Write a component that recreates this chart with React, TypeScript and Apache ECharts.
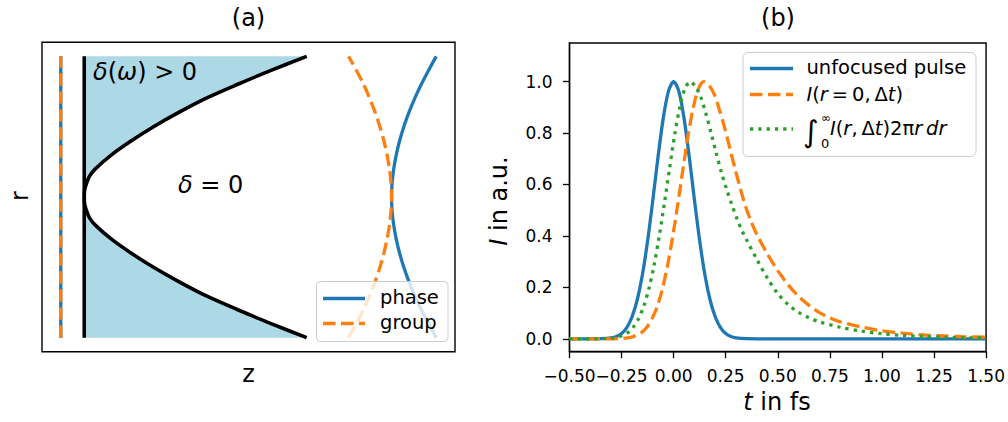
import { useEffect, useRef } from "react";
import * as echarts from "echarts";

const FONT = "DejaVu Sans";
const BLUE = "#1f77b4";
const ORANGE = "#ff7f0e";
const GREEN = "#2ca02c";
const LIGHT_BLUE = "#add8e6";

// ---- Panel (a): wavefront sketch in the (z, r) plane ----
const sourceZ = 0;
const wallZ = 0.0625;
const boundaryR = [-1, -0.9, -0.8, -0.7, -0.6, -0.5, -0.4, -0.3, -0.2, -0.15, -0.1, -0.05, 0, 0.05, 0.1, 0.15, 0.2, 0.3, 0.4, 0.5, 0.6, 0.7, 0.8, 0.9, 1];
const boundaryZ = [0.655, 0.56, 0.47, 0.385, 0.313, 0.247, 0.188, 0.135, 0.092, 0.077, 0.069, 0.0635, 0.0625, 0.0635, 0.069, 0.077, 0.092, 0.135, 0.188, 0.247, 0.313, 0.385, 0.47, 0.56, 0.655];
const frontR = [-1, -0.9, -0.8, -0.7, -0.6, -0.5, -0.4, -0.3, -0.2, -0.1, 0, 0.1, 0.2, 0.3, 0.4, 0.5, 0.6, 0.7, 0.8, 0.9, 1];
const phaseZ = [1.0, 0.9795, 0.96, 0.9425, 0.927, 0.9137, 0.9025, 0.8935, 0.8868, 0.8825, 0.881, 0.8825, 0.8868, 0.8935, 0.9025, 0.9137, 0.927, 0.9425, 0.96, 0.9795, 1.0];
const groupZ = [0.7665, 0.7875, 0.8065, 0.823, 0.8375, 0.85, 0.8605, 0.869, 0.8755, 0.8795, 0.881, 0.8795, 0.8755, 0.869, 0.8605, 0.85, 0.8375, 0.823, 0.8065, 0.7875, 0.7665];

// ---- Panel (b): temporal intensity profiles ----
const xTicksB = [-0.5, 1.5, 0.25]; // min, max, step
const yTickValues = [0, 0.2, 0.4, 0.6, 0.8, 1.0];

const tUnfocused = [-0.5, -0.4, -0.35, -0.3, -0.275, -0.25, -0.225, -0.2, -0.175, -0.15, -0.125, -0.1, -0.075, -0.05, -0.025, 0, 0.025, 0.05, 0.075, 0.1, 0.125, 0.15, 0.175, 0.2, 0.225, 0.25, 0.275, 0.3, 0.35, 0.4, 0.5, 1.0, 1.5];
const iUnfocused = [0, 0, 0.0005, 0.004, 0.009, 0.021, 0.044, 0.085, 0.151, 0.249, 0.381, 0.539, 0.707, 0.857, 0.962, 1, 0.962, 0.857, 0.707, 0.539, 0.381, 0.249, 0.151, 0.085, 0.044, 0.021, 0.009, 0.004, 0.0005, 0, 0, 0, 0];

const tOnAxis = [-0.5, -0.3, -0.255, -0.205, -0.155, -0.13, -0.105, -0.08, -0.055, -0.03, -0.005, 0.02, 0.045, 0.07, 0.095, 0.12, 0.145, 0.17, 0.195, 0.22, 0.245, 0.27, 0.295, 0.32, 0.345, 0.37, 0.4, 0.45, 0.5, 0.55, 0.6, 0.65, 0.7, 0.75, 0.8, 0.9, 1.0, 1.1, 1.2, 1.3, 1.4, 1.5];
const iOnAxis = [0, 0.0002, 0.0014, 0.006, 0.024, 0.044, 0.076, 0.123, 0.191, 0.282, 0.395, 0.524, 0.661, 0.793, 0.902, 0.974, 1.0, 0.985, 0.95, 0.89, 0.82, 0.74, 0.66, 0.585, 0.515, 0.46, 0.405, 0.33, 0.265, 0.21, 0.165, 0.13, 0.102, 0.081, 0.066, 0.046, 0.031, 0.022, 0.015, 0.011, 0.008, 0.006];

const tIntegrated = [-0.5, -0.37, -0.32, -0.27, -0.22, -0.195, -0.17, -0.145, -0.12, -0.095, -0.07, -0.045, -0.02, 0.005, 0.03, 0.055, 0.08, 0.105, 0.13, 0.155, 0.18, 0.205, 0.23, 0.255, 0.28, 0.305, 0.33, 0.35, 0.4, 0.45, 0.5, 0.55, 0.6, 0.65, 0.7, 0.8, 0.9, 1.0, 1.1, 1.2, 1.3, 1.4, 1.5];
const iIntegrated = [0, 0.0002, 0.0014, 0.006, 0.024, 0.044, 0.076, 0.123, 0.191, 0.282, 0.395, 0.524, 0.661, 0.793, 0.902, 0.974, 1.0, 0.98, 0.94, 0.875, 0.8, 0.72, 0.645, 0.58, 0.52, 0.465, 0.418, 0.385, 0.308, 0.236, 0.176, 0.133, 0.103, 0.082, 0.066, 0.045, 0.03, 0.02, 0.013, 0.009, 0.006, 0.004, 0.003];

const pairs = (xs: number[], ys: number[]) => xs.map((x, i) => [x, ys[i]]);

const LW = 3.3;
const DASH = [12.5, 5.5];
const DOT = [3.3, 5];
const THIN = "\u2009";

function txt(x: number, y: number, text: string, size: number, extra: any = {}) {
  return {
    type: "text",
    x,
    y,
    z: 200,
    rotation: extra.rotation || 0,
    style: {
      text,
      fontSize: size,
      fontFamily: FONT,
      fill: "#000",
      align: extra.align || "center",
      verticalAlign: "middle",
      textAlign: extra.align || "center",
      textVerticalAlign: "middle",
      rich: extra.rich,
    },
  };
}

function seg(x1: number, y1: number, x2: number, y2: number, color: string, dash?: number[]) {
  return {
    type: "line",
    z: 201,
    shape: { x1, y1, x2, y2 },
    style: { stroke: color, lineWidth: LW, lineDash: dash || null, lineCap: "butt" },
  };
}

const it = (size: number) => ({ i: { fontStyle: "italic", fontSize: size, fontFamily: FONT } });

export default function App() {
  const ref = useRef<HTMLDivElement>(null);

  useEffect(() => {
    if (!ref.current) return;
    const chart = echarts.init(ref.current, null, { renderer: "svg" });

    const fillPolygon = (params: any, api: any) => {
      const pts: number[][] = [api.coord([wallZ, 1])];
      for (let i = boundaryR.length - 1; i >= 0; i--) pts.push(api.coord([boundaryZ[i], boundaryR[i]]));
      pts.push(api.coord([wallZ, -1]));
      return { type: "polygon", shape: { points: pts }, style: { fill: LIGHT_BLUE }, silent: true };
    };

    const lineA = (data: number[][], color: string, width: number, dash?: number[], smooth = 0) => ({
      type: "line",
      xAxisIndex: 0,
      yAxisIndex: 0,
      data,
      showSymbol: false,
      symbol: "none",
      smooth,
      silent: true,
      lineStyle: { color, width, type: dash || "solid", cap: "butt" },
    });

    const lineB = (data: number[][], color: string, dash?: number[]) => ({
      type: "line",
      xAxisIndex: 1,
      yAxisIndex: 1,
      data,
      showSymbol: false,
      symbol: "none",
      smooth: 0.3,
      silent: true,
      lineStyle: { color, width: LW, type: dash || "solid", cap: "butt" },
    });

    const tickFmt = (v: number) => (v < 0 ? "\u2212" + Math.abs(v).toFixed(2) : v.toFixed(2));

    chart.setOption({
      animation: false,
      backgroundColor: "#fff",
      grid: [
        { left: 42, top: 42.3, width: 413, height: 309.4, show: true, borderColor: "#000", borderWidth: 1.4, backgroundColor: "transparent" },
        { left: 569.5, top: 43, width: 417, height: 308.7, show: true, borderColor: "#000", borderWidth: 1.4, backgroundColor: "transparent" },
      ],
      xAxis: [
        { type: "value", gridIndex: 0, min: -0.05, max: 1.05, show: false },
        {
          type: "value",
          gridIndex: 1,
          min: xTicksB[0],
          max: xTicksB[1],
          interval: xTicksB[2],
          axisLine: { show: true, onZero: false, lineStyle: { color: "#000", width: 1.4 } },
          axisTick: { show: true, length: 6.5, lineStyle: { color: "#000", width: 1.3 } },
          splitLine: { show: false },
          axisLabel: { color: "#000", fontSize: 17, fontFamily: FONT, margin: 16, formatter: tickFmt, showMinLabel: true, showMaxLabel: true },
        },
      ],
      yAxis: [
        { type: "value", gridIndex: 0, min: -1.1, max: 1.1, show: false },
        {
          type: "value",
          gridIndex: 1,
          min: -0.05,
          max: 1.15,
          axisLine: { show: true, onZero: false, lineStyle: { color: "#000", width: 1.4 } },
          axisTick: { show: true, length: 6.5, customValues: yTickValues, lineStyle: { color: "#000", width: 1.3 } },
          splitLine: { show: false },
          axisLabel: { color: "#000", fontSize: 17, fontFamily: FONT, margin: 17, customValues: yTickValues, formatter: (v: number) => v.toFixed(1) },
        },
      ],
      series: [
        { type: "custom", xAxisIndex: 0, yAxisIndex: 0, data: [[0, 0]], renderItem: fillPolygon, silent: true, clip: false },
        lineA([[sourceZ, -1], [sourceZ, 1]], BLUE, LW),
        lineA([[sourceZ, -1], [sourceZ, 1]], ORANGE, LW, DASH),
        lineA([[wallZ, -1], [wallZ, 1]], "#000", 3.6),
        lineA(pairs(boundaryZ, boundaryR), "#000", 3.6, undefined, 0.3),
        lineA(pairs(phaseZ, frontR), BLUE, LW, undefined, 0.3),
        lineA(pairs(groupZ, frontR), ORANGE, LW, DASH, 0.3),
        lineB(pairs(tUnfocused, iUnfocused), BLUE),
        lineB(pairs(tOnAxis, iOnAxis), ORANGE, DASH),
        lineB(pairs(tIntegrated, iIntegrated), GREEN, DOT),
      ],
      graphic: [
        // titles and axis names
        txt(248.5, 18, "(a)", 24),
        txt(778, 18, "(b)", 24),
        txt(20, 196, "r", 24, { rotation: Math.PI / 2 }),
        txt(248.5, 374, "z", 24),
        txt(499, 201, "{i|I} in a.u.", 24, { rotation: Math.PI / 2, rich: it(24) }),
        txt(777, 402, "{i|t} in fs", 24, { rich: it(24) }),
        // region annotations
        txt(93, 72, "{i|δ}({i|ω}) > 0", 24, { align: "left", rich: it(24) }),
        txt(178, 185, "{i|δ} = 0", 24, { align: "left", rich: it(24) }),
        // legend of panel (a)
        {
          type: "rect",
          z: 200,
          shape: { x: 316.5, y: 281.5, width: 131.5, height: 60, r: 4 },
          style: { fill: "rgba(255,255,255,0.8)", stroke: "#cccccc", lineWidth: 1 },
        },
        seg(323, 298.5, 365, 298.5, BLUE),
        seg(323, 323.5, 365, 323.5, ORANGE, DASH),
        txt(380, 297.5, "phase", 19.5, { align: "left" }),
        txt(380, 322, "group", 19.5, { align: "left" }),
        // legend of panel (b)
        {
          type: "rect",
          z: 200,
          shape: { x: 743, y: 52.5, width: 233, height: 104, r: 5 },
          style: { fill: "rgba(255,255,255,0.8)", stroke: "#cccccc", lineWidth: 1 },
        },
        seg(750, 68.5, 793, 68.5, BLUE),
        seg(750, 94.5, 793, 94.5, ORANGE, DASH),
        seg(750, 129, 793, 129, GREEN, DOT),
        txt(806.5, 67.5, "unfocused pulse", 19.5, { align: "left" }),
        txt(806.5, 94, `{i|I}({i|r}${THIN}=${THIN}0,${THIN}Δ{i|t})`, 19.5, { align: "left", rich: it(19.5) }),
        txt(803, 131, "∫", 30, { align: "left" }),
        txt(821, 118, "∞", 12, { align: "left" }),
        txt(821, 143, "0", 13, { align: "left" }),
        txt(830, 128.5, `{i|I}({i|r},${THIN}Δ{i|t})2π{i|r}${THIN}{i|dr}`, 19.5, { align: "left", rich: it(19.5) }),
      ],
    });

    return () => chart.dispose();
  }, []);

  return <div ref={ref} style={{ position: "fixed", left: 0, top: 0, width: 1008, height: 422 }} />;
}
